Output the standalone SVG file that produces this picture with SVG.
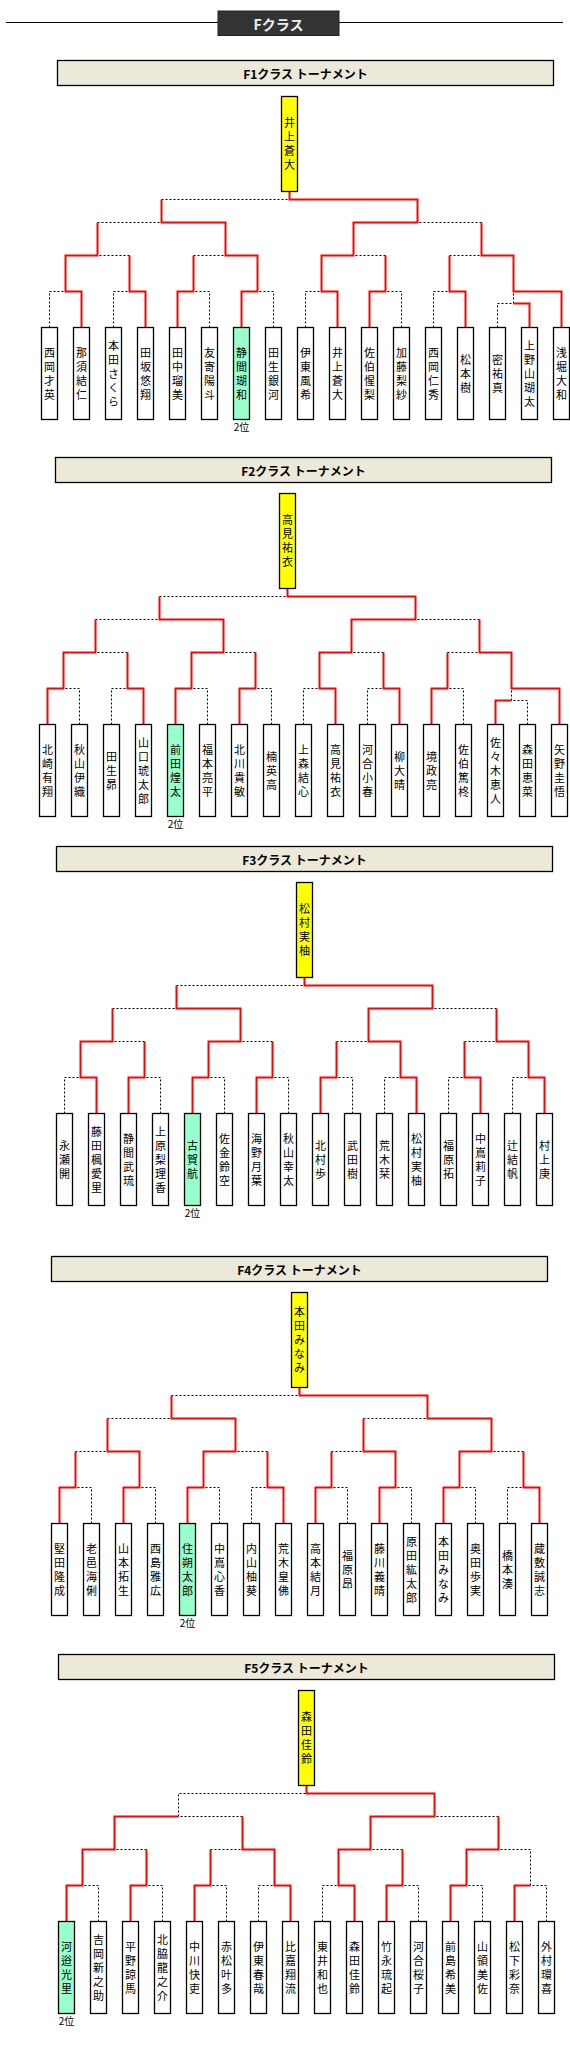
<svg xmlns="http://www.w3.org/2000/svg" width="570" height="2071" viewBox="0 0 570 2071">
<style>
.w{stroke:#f00;stroke-width:2;fill:none}
.l{stroke:#000;stroke-width:1;fill:none;stroke-dasharray:2 2}
.b{fill:#fff;stroke:#000;stroke-width:1.3}
.g{fill:#99ffcc;stroke:#000;stroke-width:1.3}
.y{fill:#ff0;stroke:#000;stroke-width:1.3}
.h{fill:#ece9d8;stroke:#000;stroke-width:1.3}
.n{font-family:"Noto Sans CJK JP",sans-serif;font-size:11px;writing-mode:vertical-rl;text-anchor:middle;letter-spacing:3px;fill:#000}
.t{font-family:"Noto Sans CJK JP",sans-serif;font-size:12px;font-weight:bold;text-anchor:middle;dominant-baseline:central;fill:#000}
.r{font-family:"Noto Sans CJK JP",sans-serif;font-size:10px;text-anchor:middle;dominant-baseline:central;fill:#000}
</style>
<rect width="570" height="2071" fill="#fff"/>
<g id="title">
<line x1="6" y1="22.5" x2="563" y2="22.5" stroke="#000" stroke-width="1"/>
<rect x="218" y="11" width="121" height="24.5" fill="#333" stroke="#222" stroke-width="1"/>
<text x="278.5" y="23.5" font-family="Noto Sans CJK JP, sans-serif" font-size="14" font-weight="bold" fill="#eee" text-anchor="middle" dominant-baseline="central">Fクラス</text>
</g>
<g id="connectors">
<g id="c-f1">
<path class="l" d="M49.5 327.5V291.5H65.5M113.5 327.5V291.5H129.5M209.5 327.5V291.5H193.5M273.5 327.5V291.5H257.5M305.5 327.5V291.5H321.5M401.5 327.5V291.5H385.5M433.5 327.5V291.5H449.5M497.5 327.5V303.5H513.5M513.5 303.5V291.5M129.5 255.5H97.5M193.5 255.5H225.5M385.5 255.5H353.5M449.5 255.5H481.5M97.5 222.5H161.5M481.5 222.5H417.5M161.5 199.5H289.5"/>
<path class="w" d="M81.5 327.5V291.5H65.5V255.5H97.5V222.5M145.5 327.5V291.5H129.5V255.5M177.5 327.5V291.5H193.5V255.5M241.5 327.5V291.5H257.5V255.5H225.5V222.5H161.5V199.5M337.5 327.5V291.5H321.5V255.5H353.5V222.5H417.5V199.5H289.5V191.5M369.5 327.5V291.5H385.5V255.5M465.5 327.5V291.5H449.5V255.5M529.5 327.5V303.5H513.5M561.5 327.5V291.5H513.5V255.5H481.5V222.5"/>
</g>
<g id="c-f2">
<path class="l" d="M79.5 724.5V688.5H63.5M111.5 724.5V688.5H127.5M207.5 724.5V688.5H191.5M271.5 724.5V688.5H255.5M303.5 724.5V688.5H319.5M367.5 724.5V688.5H383.5M463.5 724.5V688.5H447.5M527.5 724.5V700.5H511.5M511.5 700.5V688.5M127.5 652.5H95.5M255.5 652.5H223.5M383.5 652.5H351.5M447.5 652.5H479.5M95.5 619.5H159.5M479.5 619.5H415.5M159.5 596.5H287.5"/>
<path class="w" d="M47.5 724.5V688.5H63.5V652.5H95.5V619.5M143.5 724.5V688.5H127.5V652.5M175.5 724.5V688.5H191.5V652.5H223.5V619.5H159.5V596.5M239.5 724.5V688.5H255.5V652.5M335.5 724.5V688.5H319.5V652.5H351.5V619.5H415.5V596.5H287.5V588.5M399.5 724.5V688.5H383.5V652.5M431.5 724.5V688.5H447.5V652.5M495.5 724.5V700.5H511.5M559.5 724.5V688.5H511.5V652.5H479.5V619.5"/>
</g>
<g id="c-f3">
<path class="l" d="M64.5 1113.5V1077.5H80.5M160.5 1113.5V1077.5H144.5M224.5 1113.5V1077.5H208.5M288.5 1113.5V1077.5H272.5M352.5 1113.5V1077.5H336.5M384.5 1113.5V1077.5H400.5M448.5 1113.5V1077.5H464.5M512.5 1113.5V1077.5H528.5M144.5 1041.5H112.5M272.5 1041.5H240.5M336.5 1041.5H368.5M464.5 1041.5H496.5M112.5 1008.5H176.5M496.5 1008.5H432.5M176.5 985.5H304.5"/>
<path class="w" d="M96.5 1113.5V1077.5H80.5V1041.5H112.5V1008.5M128.5 1113.5V1077.5H144.5V1041.5M192.5 1113.5V1077.5H208.5V1041.5H240.5V1008.5H176.5V985.5M256.5 1113.5V1077.5H272.5V1041.5M320.5 1113.5V1077.5H336.5V1041.5M416.5 1113.5V1077.5H400.5V1041.5H368.5V1008.5H432.5V985.5H304.5V977.5M480.5 1113.5V1077.5H464.5V1041.5M544.5 1113.5V1077.5H528.5V1041.5H496.5V1008.5"/>
</g>
<g id="c-f4">
<path class="l" d="M91.5 1523.5V1487.5H75.5M155.5 1523.5V1487.5H139.5M219.5 1523.5V1487.5H203.5M251.5 1523.5V1487.5H267.5M347.5 1523.5V1487.5H331.5M411.5 1523.5V1487.5H395.5M475.5 1523.5V1487.5H459.5M507.5 1523.5V1487.5H523.5M75.5 1451.5H107.5M267.5 1451.5H235.5M331.5 1451.5H363.5M523.5 1451.5H491.5M107.5 1418.5H171.5M363.5 1418.5H427.5M171.5 1395.5H299.5"/>
<path class="w" d="M59.5 1523.5V1487.5H75.5V1451.5M123.5 1523.5V1487.5H139.5V1451.5H107.5V1418.5M187.5 1523.5V1487.5H203.5V1451.5H235.5V1418.5H171.5V1395.5M283.5 1523.5V1487.5H267.5V1451.5M315.5 1523.5V1487.5H331.5V1451.5M379.5 1523.5V1487.5H395.5V1451.5H363.5V1418.5M443.5 1523.5V1487.5H459.5V1451.5H491.5V1418.5H427.5V1395.5H299.5V1387.5M539.5 1523.5V1487.5H523.5V1451.5"/>
</g>
<g id="c-f5">
<path class="l" d="M98.5 1921.5V1885.5H82.5M162.5 1921.5V1885.5H146.5M226.5 1921.5V1885.5H210.5M258.5 1921.5V1885.5H274.5M322.5 1921.5V1885.5H338.5M418.5 1921.5V1885.5H402.5M482.5 1921.5V1885.5H466.5M546.5 1921.5V1885.5H530.5V1849.5H498.5M146.5 1849.5H114.5M210.5 1849.5H242.5M402.5 1849.5H370.5M242.5 1816.5H178.5V1793.5H306.5M498.5 1816.5H434.5"/>
<path class="w" d="M66.5 1921.5V1885.5H82.5V1849.5H114.5V1816.5H178.5M130.5 1921.5V1885.5H146.5V1849.5M194.5 1921.5V1885.5H210.5V1849.5M290.5 1921.5V1885.5H274.5V1849.5H242.5V1816.5M354.5 1921.5V1885.5H338.5V1849.5H370.5V1816.5H434.5V1793.5H306.5V1785.5M386.5 1921.5V1885.5H402.5V1849.5M450.5 1921.5V1885.5H466.5V1849.5H498.5V1816.5M514.5 1921.5V1885.5H530.5"/>
</g>
</g>
<g id="f1">
<g id="f1-header"><rect class="h" x="57.5" y="60.5" width="496" height="25"/><text class="t" x="305.5" y="73">F1クラス トーナメント</text></g>
<g id="f1-winner"><rect class="y" x="281.5" y="96.5" width="16" height="95"/><text class="n" x="289.5" y="145.5">井上蒼大</text></g>
<g id="f1-p0"><rect class="b" x="41.5" y="327.5" width="16" height="92"/><text class="n" x="49.5" y="375">西岡才英</text></g>
<g id="f1-p1"><rect class="b" x="73.5" y="327.5" width="16" height="92"/><text class="n" x="81.5" y="375">那須結仁</text></g>
<g id="f1-p2"><rect class="b" x="105.5" y="327.5" width="16" height="92"/><text class="n" x="113.5" y="375">本田さくら</text></g>
<g id="f1-p3"><rect class="b" x="137.5" y="327.5" width="16" height="92"/><text class="n" x="145.5" y="375">田坂悠翔</text></g>
<g id="f1-p4"><rect class="b" x="169.5" y="327.5" width="16" height="92"/><text class="n" x="177.5" y="375">田中瑠美</text></g>
<g id="f1-p5"><rect class="b" x="201.5" y="327.5" width="16" height="92"/><text class="n" x="209.5" y="375">友寄陽斗</text></g>
<g id="f1-p6"><rect class="g" x="233.5" y="327.5" width="16" height="92"/><text class="n" x="241.5" y="375">静間瑚和</text><text class="r" x="241.5" y="426">2位</text></g>
<g id="f1-p7"><rect class="b" x="265.5" y="327.5" width="16" height="92"/><text class="n" x="273.5" y="375">田生銀河</text></g>
<g id="f1-p8"><rect class="b" x="297.5" y="327.5" width="16" height="92"/><text class="n" x="305.5" y="375">伊東風希</text></g>
<g id="f1-p9"><rect class="b" x="329.5" y="327.5" width="16" height="92"/><text class="n" x="337.5" y="375">井上蒼大</text></g>
<g id="f1-p10"><rect class="b" x="361.5" y="327.5" width="16" height="92"/><text class="n" x="369.5" y="375">佐伯惺梨</text></g>
<g id="f1-p11"><rect class="b" x="393.5" y="327.5" width="16" height="92"/><text class="n" x="401.5" y="375">加藤梨紗</text></g>
<g id="f1-p12"><rect class="b" x="425.5" y="327.5" width="16" height="92"/><text class="n" x="433.5" y="375">西岡仁秀</text></g>
<g id="f1-p13"><rect class="b" x="457.5" y="327.5" width="16" height="92"/><text class="n" x="465.5" y="375">松本樹</text></g>
<g id="f1-p14"><rect class="b" x="489.5" y="327.5" width="16" height="92"/><text class="n" x="497.5" y="375">密祐真</text></g>
<g id="f1-p15"><rect class="b" x="521.5" y="327.5" width="16" height="92"/><text class="n" x="529.5" y="375">上野山瑚太</text></g>
<g id="f1-p16"><rect class="b" x="553.5" y="327.5" width="16" height="92"/><text class="n" x="561.5" y="375">浅堀大和</text></g>
</g>
<g id="f2">
<g id="f2-header"><rect class="h" x="55.5" y="457.5" width="496" height="25"/><text class="t" x="303.5" y="470">F2クラス トーナメント</text></g>
<g id="f2-winner"><rect class="y" x="279.5" y="493.5" width="16" height="95"/><text class="n" x="287.5" y="542.5">高見祐衣</text></g>
<g id="f2-p0"><rect class="b" x="39.5" y="724.5" width="16" height="92"/><text class="n" x="47.5" y="772">北崎有翔</text></g>
<g id="f2-p1"><rect class="b" x="71.5" y="724.5" width="16" height="92"/><text class="n" x="79.5" y="772">秋山伊織</text></g>
<g id="f2-p2"><rect class="b" x="103.5" y="724.5" width="16" height="92"/><text class="n" x="111.5" y="772">田生昴</text></g>
<g id="f2-p3"><rect class="b" x="135.5" y="724.5" width="16" height="92"/><text class="n" x="143.5" y="772">山口琥太郎</text></g>
<g id="f2-p4"><rect class="g" x="167.5" y="724.5" width="16" height="92"/><text class="n" x="175.5" y="772">前田煌太</text><text class="r" x="175.5" y="823">2位</text></g>
<g id="f2-p5"><rect class="b" x="199.5" y="724.5" width="16" height="92"/><text class="n" x="207.5" y="772">福本亮平</text></g>
<g id="f2-p6"><rect class="b" x="231.5" y="724.5" width="16" height="92"/><text class="n" x="239.5" y="772">北川貴敏</text></g>
<g id="f2-p7"><rect class="b" x="263.5" y="724.5" width="16" height="92"/><text class="n" x="271.5" y="772">楠英高</text></g>
<g id="f2-p8"><rect class="b" x="295.5" y="724.5" width="16" height="92"/><text class="n" x="303.5" y="772">上森結心</text></g>
<g id="f2-p9"><rect class="b" x="327.5" y="724.5" width="16" height="92"/><text class="n" x="335.5" y="772">高見祐衣</text></g>
<g id="f2-p10"><rect class="b" x="359.5" y="724.5" width="16" height="92"/><text class="n" x="367.5" y="772">河合小春</text></g>
<g id="f2-p11"><rect class="b" x="391.5" y="724.5" width="16" height="92"/><text class="n" x="399.5" y="772">柳大晴</text></g>
<g id="f2-p12"><rect class="b" x="423.5" y="724.5" width="16" height="92"/><text class="n" x="431.5" y="772">境政亮</text></g>
<g id="f2-p13"><rect class="b" x="455.5" y="724.5" width="16" height="92"/><text class="n" x="463.5" y="772">佐伯篤柊</text></g>
<g id="f2-p14"><rect class="b" x="487.5" y="724.5" width="16" height="92"/><text class="n" x="495.5" y="772">佐々木恵人</text></g>
<g id="f2-p15"><rect class="b" x="519.5" y="724.5" width="16" height="92"/><text class="n" x="527.5" y="772">森田恵菜</text></g>
<g id="f2-p16"><rect class="b" x="551.5" y="724.5" width="16" height="92"/><text class="n" x="559.5" y="772">矢野圭悟</text></g>
</g>
<g id="f3">
<g id="f3-header"><rect class="h" x="56.5" y="846.5" width="496" height="25"/><text class="t" x="304.5" y="859">F3クラス トーナメント</text></g>
<g id="f3-winner"><rect class="y" x="296.5" y="882.5" width="16" height="95"/><text class="n" x="304.5" y="931.5">松村実柚</text></g>
<g id="f3-p0"><rect class="b" x="56.5" y="1113.5" width="16" height="92"/><text class="n" x="64.5" y="1161">永瀬開</text></g>
<g id="f3-p1"><rect class="b" x="88.5" y="1113.5" width="16" height="92"/><text class="n" x="96.5" y="1161">藤田楓愛里</text></g>
<g id="f3-p2"><rect class="b" x="120.5" y="1113.5" width="16" height="92"/><text class="n" x="128.5" y="1161">静間武琉</text></g>
<g id="f3-p3"><rect class="b" x="152.5" y="1113.5" width="16" height="92"/><text class="n" x="160.5" y="1161">上原梨理香</text></g>
<g id="f3-p4"><rect class="g" x="184.5" y="1113.5" width="16" height="92"/><text class="n" x="192.5" y="1161">古賀航</text><text class="r" x="192.5" y="1212">2位</text></g>
<g id="f3-p5"><rect class="b" x="216.5" y="1113.5" width="16" height="92"/><text class="n" x="224.5" y="1161">佐金鈴空</text></g>
<g id="f3-p6"><rect class="b" x="248.5" y="1113.5" width="16" height="92"/><text class="n" x="256.5" y="1161">海野月葉</text></g>
<g id="f3-p7"><rect class="b" x="280.5" y="1113.5" width="16" height="92"/><text class="n" x="288.5" y="1161">秋山幸太</text></g>
<g id="f3-p8"><rect class="b" x="312.5" y="1113.5" width="16" height="92"/><text class="n" x="320.5" y="1161">北村歩</text></g>
<g id="f3-p9"><rect class="b" x="344.5" y="1113.5" width="16" height="92"/><text class="n" x="352.5" y="1161">武田樹</text></g>
<g id="f3-p10"><rect class="b" x="376.5" y="1113.5" width="16" height="92"/><text class="n" x="384.5" y="1161">荒木栞</text></g>
<g id="f3-p11"><rect class="b" x="408.5" y="1113.5" width="16" height="92"/><text class="n" x="416.5" y="1161">松村実柚</text></g>
<g id="f3-p12"><rect class="b" x="440.5" y="1113.5" width="16" height="92"/><text class="n" x="448.5" y="1161">福原拓</text></g>
<g id="f3-p13"><rect class="b" x="472.5" y="1113.5" width="16" height="92"/><text class="n" x="480.5" y="1161">中嶌莉子</text></g>
<g id="f3-p14"><rect class="b" x="504.5" y="1113.5" width="16" height="92"/><text class="n" x="512.5" y="1161">辻結帆</text></g>
<g id="f3-p15"><rect class="b" x="536.5" y="1113.5" width="16" height="92"/><text class="n" x="544.5" y="1161">村上庚</text></g>
</g>
<g id="f4">
<g id="f4-header"><rect class="h" x="51.5" y="1256.5" width="496" height="25"/><text class="t" x="299.5" y="1269">F4クラス トーナメント</text></g>
<g id="f4-winner"><rect class="y" x="291.5" y="1292.5" width="16" height="95"/><text class="n" x="299.5" y="1341.5">本田みなみ</text></g>
<g id="f4-p0"><rect class="b" x="51.5" y="1523.5" width="16" height="92"/><text class="n" x="59.5" y="1571">堅田隆成</text></g>
<g id="f4-p1"><rect class="b" x="83.5" y="1523.5" width="16" height="92"/><text class="n" x="91.5" y="1571">老邑海俐</text></g>
<g id="f4-p2"><rect class="b" x="115.5" y="1523.5" width="16" height="92"/><text class="n" x="123.5" y="1571">山本拓生</text></g>
<g id="f4-p3"><rect class="b" x="147.5" y="1523.5" width="16" height="92"/><text class="n" x="155.5" y="1571">西島雅広</text></g>
<g id="f4-p4"><rect class="g" x="179.5" y="1523.5" width="16" height="92"/><text class="n" x="187.5" y="1571">住朔太郎</text><text class="r" x="187.5" y="1622">2位</text></g>
<g id="f4-p5"><rect class="b" x="211.5" y="1523.5" width="16" height="92"/><text class="n" x="219.5" y="1571">中嶌心香</text></g>
<g id="f4-p6"><rect class="b" x="243.5" y="1523.5" width="16" height="92"/><text class="n" x="251.5" y="1571">内山柚葵</text></g>
<g id="f4-p7"><rect class="b" x="275.5" y="1523.5" width="16" height="92"/><text class="n" x="283.5" y="1571">荒木皇佛</text></g>
<g id="f4-p8"><rect class="b" x="307.5" y="1523.5" width="16" height="92"/><text class="n" x="315.5" y="1571">高本結月</text></g>
<g id="f4-p9"><rect class="b" x="339.5" y="1523.5" width="16" height="92"/><text class="n" x="347.5" y="1571">福原昂</text></g>
<g id="f4-p10"><rect class="b" x="371.5" y="1523.5" width="16" height="92"/><text class="n" x="379.5" y="1571">藤川義晴</text></g>
<g id="f4-p11"><rect class="b" x="403.5" y="1523.5" width="16" height="92"/><text class="n" x="411.5" y="1571">原田紘太郎</text></g>
<g id="f4-p12"><rect class="b" x="435.5" y="1523.5" width="16" height="92"/><text class="n" x="443.5" y="1571">本田みなみ</text></g>
<g id="f4-p13"><rect class="b" x="467.5" y="1523.5" width="16" height="92"/><text class="n" x="475.5" y="1571">奥田歩実</text></g>
<g id="f4-p14"><rect class="b" x="499.5" y="1523.5" width="16" height="92"/><text class="n" x="507.5" y="1571">橋本湊</text></g>
<g id="f4-p15"><rect class="b" x="531.5" y="1523.5" width="16" height="92"/><text class="n" x="539.5" y="1571">蔵敷誠志</text></g>
</g>
<g id="f5">
<g id="f5-header"><rect class="h" x="58.5" y="1654.5" width="496" height="25"/><text class="t" x="306.5" y="1667">F5クラス トーナメント</text></g>
<g id="f5-winner"><rect class="y" x="298.5" y="1690.5" width="16" height="95"/><text class="n" x="306.5" y="1739.5">森田佳鈴</text></g>
<g id="f5-p0"><rect class="g" x="58.5" y="1921.5" width="16" height="92"/><text class="n" x="66.5" y="1969">河逧光里</text><text class="r" x="66.5" y="2020">2位</text></g>
<g id="f5-p1"><rect class="b" x="90.5" y="1921.5" width="16" height="92"/><text class="n" x="98.5" y="1969">吉岡新之助</text></g>
<g id="f5-p2"><rect class="b" x="122.5" y="1921.5" width="16" height="92"/><text class="n" x="130.5" y="1969">平野諒馬</text></g>
<g id="f5-p3"><rect class="b" x="154.5" y="1921.5" width="16" height="92"/><text class="n" x="162.5" y="1969">北脇龍之介</text></g>
<g id="f5-p4"><rect class="b" x="186.5" y="1921.5" width="16" height="92"/><text class="n" x="194.5" y="1969">中川快吏</text></g>
<g id="f5-p5"><rect class="b" x="218.5" y="1921.5" width="16" height="92"/><text class="n" x="226.5" y="1969">赤松叶多</text></g>
<g id="f5-p6"><rect class="b" x="250.5" y="1921.5" width="16" height="92"/><text class="n" x="258.5" y="1969">伊東春哉</text></g>
<g id="f5-p7"><rect class="b" x="282.5" y="1921.5" width="16" height="92"/><text class="n" x="290.5" y="1969">比嘉翔流</text></g>
<g id="f5-p8"><rect class="b" x="314.5" y="1921.5" width="16" height="92"/><text class="n" x="322.5" y="1969">東井和也</text></g>
<g id="f5-p9"><rect class="b" x="346.5" y="1921.5" width="16" height="92"/><text class="n" x="354.5" y="1969">森田佳鈴</text></g>
<g id="f5-p10"><rect class="b" x="378.5" y="1921.5" width="16" height="92"/><text class="n" x="386.5" y="1969">竹永琉起</text></g>
<g id="f5-p11"><rect class="b" x="410.5" y="1921.5" width="16" height="92"/><text class="n" x="418.5" y="1969">河合桜子</text></g>
<g id="f5-p12"><rect class="b" x="442.5" y="1921.5" width="16" height="92"/><text class="n" x="450.5" y="1969">前島希美</text></g>
<g id="f5-p13"><rect class="b" x="474.5" y="1921.5" width="16" height="92"/><text class="n" x="482.5" y="1969">山領美佐</text></g>
<g id="f5-p14"><rect class="b" x="506.5" y="1921.5" width="16" height="92"/><text class="n" x="514.5" y="1969">松下彩奈</text></g>
<g id="f5-p15"><rect class="b" x="538.5" y="1921.5" width="16" height="92"/><text class="n" x="546.5" y="1969">外村環喜</text></g>
</g>
</svg>
